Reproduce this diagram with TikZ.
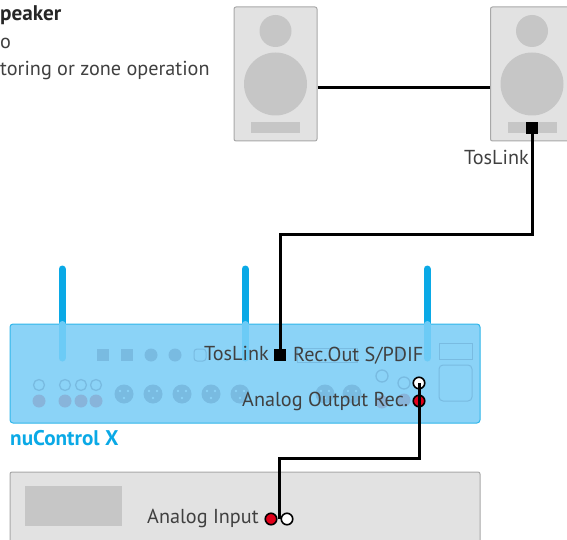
\documentclass[tikz,border=0pt]{standalone}
\usepackage{fontspec}
\setmainfont{PT Sans}
\usepackage{xcolor}
\definecolor{nublue}{HTML}{0AA9E6}
\definecolor{boxblue}{HTML}{8BD3F7}
\definecolor{antblue}{HTML}{6CCBF6}
\definecolor{partblue}{HTML}{79BBE1}
\definecolor{dotblue}{HTML}{88B4DA}
\definecolor{casegray}{HTML}{E2E2E2}
\definecolor{edgegray}{HTML}{A8A8A8}
\definecolor{conegray}{HTML}{C6C6C6}
\definecolor{wantred}{HTML}{E2001A}
\definecolor{txtgray}{HTML}{404040}

\begin{document}
\begin{tikzpicture}[x=1pt,y=-1pt]
	\tikzstyle{wire} = [draw=black, line width=3pt]
	\tikzstyle{case} = [draw=edgegray, fill=casegray, line width=1pt, rounded corners=2pt, inner sep=0pt, minimum width=83pt, minimum height=134pt]
	\tikzstyle{cone} = [circle, fill=conegray, inner sep=0pt]
	\tikzstyle{bar} = [fill=conegray, inner sep=0pt, minimum width=49pt, minimum height=11pt]
	\tikzstyle{tos} = [fill=black, inner sep=0pt, minimum size=12.5pt]
	\tikzstyle{jackred} = [circle, draw=black, fill=wantred, line width=1.6pt, inner sep=0pt, minimum size=11.5pt]
	\tikzstyle{jackwhite} = [circle, draw=black, fill=white, line width=1.6pt, inner sep=0pt, minimum size=11.5pt]
	\tikzstyle{lab} = [inner sep=0pt, anchor=base west, text=txtgray, font=\fontsize{20.2}{24}\selectfont]
	\tikzstyle{labbold} = [lab, font=\fontsize{21.2}{24}\selectfont\bfseries]
	\tikzstyle{ring} = [circle, draw=partblue, line width=1.3pt, inner sep=0pt, minimum size=11pt]
	\tikzstyle{dot} = [circle, fill=dotblue, inner sep=0pt, minimum size=13pt]
	\tikzstyle{xlr} = [circle, fill=partblue, inner sep=0pt, minimum size=19pt]
	\tikzstyle{ant} = [line width=7pt, line cap=round]
	\clip (0,0) rectangle (567,540);

	% speakers
	\foreach \n/\x in {spkL/275.5,spkR/532}{
		\node[case] (\n) at (\x,74) {};
		\node[cone, minimum size=32pt] (\n tw) at (\x,31) {};
		\node[cone, minimum size=63pt] (\n wf) at (\x,84) {};
		\node[bar] (\n bar) at (\x,127.5) {};
	}
	\node[tos] (tosSpk) at (532,128) {};

	% antennas, outer part
	\foreach \x in {62,245,427}
		\draw[ant, nublue] (\x,269) -- (\x,330);

	% nuControl
	\node[draw=nublue!85, fill=boxblue, line width=1pt, rounded corners=3pt, minimum width=470pt, minimum height=99pt, inner sep=0pt] (nucontrol) at (245,373.5) {};
	\foreach \x in {62,245,427}
		\draw[ant, antblue] (\x,324.5) -- (\x,358);

	% back panel
	\node[fill=partblue, inner sep=0pt, minimum size=12pt] (opt1) at (103,355) {};
	\node[fill=partblue, inner sep=0pt, minimum size=12pt] (opt2) at (127,355) {};
	\node[dot, fill=partblue] (coax1) at (151,355) {};
	\node[dot, fill=partblue] (coax2) at (175,355) {};
	\node[draw=partblue, line width=1pt, rounded corners=3pt, inner sep=0pt, minimum size=12pt] (opt3) at (200,355) {};
	\node[draw=partblue, line width=1pt, inner sep=0pt, minimum width=60pt, minimum height=14pt] (hdmi) at (327,355) {};
	\node[dot, fill=partblue, minimum size=11pt] (coax3) at (400,354) {};
	\foreach \i/\x in {1/39,2/65,3/81,4/96}{
		\node[ring] (in\i) at (\x,385) {};
		\node[dot] (out\i) at (\x,401) {};
	}
	\foreach \i/\x in {1/124,2/153,3/182,4/211,5/240,6/325,7/352}{
		\node[xlr] (xlr\i) at (\x,394) {};
		\fill[boxblue] (\x-4,391) circle (1.3pt) (\x+4,391) circle (1.3pt) (\x,398) circle (1.3pt);
	}
	\node[ring, minimum size=12pt] (rec1) at (382,376) {};
	\node[ring, minimum size=12pt] (rec2) at (404,383) {};
	\node[dot] (rec3) at (382,402) {};
	\node[dot] (rec4) at (404,400) {};
	\node[draw=partblue, line width=1pt, inner sep=0pt, minimum width=33pt, minimum height=16pt] (usb) at (455.5,351.5) {};
	\node[draw=partblue, line width=1pt, rounded corners=4pt, inner sep=0pt, minimum width=33pt, minimum height=36pt] (pwr) at (455.5,383) {};

	% lower device
	\node[draw=edgegray, fill=casegray, line width=1pt, rounded corners=2pt, inner sep=0pt, minimum width=470pt, minimum height=120pt] (amp) at (245,532) {};
	\node[fill=conegray, inner sep=0pt, minimum width=97pt, minimum height=40pt] (display) at (73.5,506) {};

	% texts
	\node[labbold, text=black!85] (title) at (0,21) {peaker};
	\node[lab] (line2) at (0,49) {o};
	\node[lab] (line3) at (0,76) {toring or zone operation};
	\node[lab] (tosSpkLab) at (464,165) {TosLink};
	\node[lab] (tosRecLab) at (204,360) {TosLink};
	\node[lab] (spdifLab) at (293,361) {Rec.Out S/PDIF};
	\node[lab] (anaOutLab) at (242,406) {Analog Output Rec.};
	\node[lab] (anaInLab) at (147,523) {Analog Input};
	\node[labbold, text=nublue] (nuLab) at (10,445) {nuControl X};

	% sockets and cables
	\node[tos] (tosRec) at (280,355) {};
	\node[jackwhite] (recW) at (419,383) {};
	\node[jackred] (recR) at (419,401) {};
	\node[jackred] (inR) at (271,519) {};
	\node[jackwhite] (inW) at (287,519) {};
	\coordinate (inMid) at (279,519);

	\draw[wire] (spkL.east |- 0,88) -- (spkR.west |- 0,88);
	\draw[wire] (tosSpk.center) -- ++(0,106) -| (tosRec.center);
	\draw[wire] (recW.center) -- ++(0,75) -| (inMid);
\end{tikzpicture}
\end{document}
